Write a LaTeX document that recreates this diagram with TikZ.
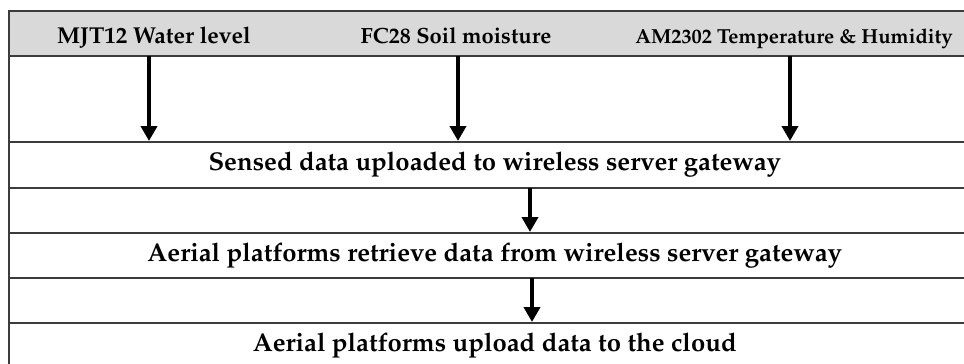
\documentclass[tikz,border=0pt]{standalone}
\usepackage[T1]{fontenc}
\usepackage{mathpazo}
\usetikzlibrary{arrows.meta}
\definecolor{framecol}{HTML}{3C3C3C}
\definecolor{headfill}{HTML}{D9D9D9}
\tikzset{
  rowbox/.style={draw=framecol, line width=1.5pt, rectangle, anchor=north west,
    minimum width=972pt, inner sep=0pt, font=\bfseries\fontsize{25.7}{30}\selectfont},
  headlabel/.style={inner sep=0pt, anchor=base},
  flowarrow/.style={line width=4pt, -{Triangle[width=16pt,length=15pt]}},
}
\begin{document}
\begin{tikzpicture}[x=1pt,y=-1pt]
\useasboundingbox (0,0) rectangle (964,364);
\clip (0,0) rectangle (964,364);
\node[rowbox, fill=headfill, minimum height=45pt] (head) at (8,10) {};
\node[rowbox, minimum height=86pt] (gap1) at (8,55) {};
\node[rowbox, minimum height=46pt] (sensed) at (8,141) {Sensed data uploaded to wireless server gateway};
\node[rowbox, minimum height=45pt] (gap2) at (8,187) {};
\node[rowbox, minimum height=45pt] (retrieve) at (8,232) {Aerial platforms retrieve data from wireless server gateway};
\node[rowbox, minimum height=45pt] (gap3) at (8,277) {};
\node[rowbox, minimum height=46pt] (upload) at (8,322) {Aerial platforms upload data to the cloud};
\node[headlabel, font=\bfseries\fontsize{23}{26}\selectfont] (s1) at (154,43) {MJT12 Water level};
\node[headlabel, font=\bfseries\fontsize{22}{26}\selectfont] (s2) at (456,43) {FC28 Soil moisture};
\node[headlabel, font=\bfseries\fontsize{20.3}{24}\selectfont] (s3) at (794,43) {AM2302 Temperature \& Humidity};
\coordinate (a1) at (149,56);
\coordinate (a2) at (458,56);
\coordinate (a3) at (790,56);
\coordinate (a4) at (530,188);
\coordinate (a5) at (532,278);
\draw[flowarrow] (a1) -- (a1 |- sensed.north);
\draw[flowarrow] (a2) -- (a2 |- sensed.north);
\draw[flowarrow] (a3) -- (a3 |- sensed.north);
\draw[flowarrow] (a4) -- (a4 |- retrieve.north);
\draw[flowarrow] (a5) -- (a5 |- upload.north);
\end{tikzpicture}
\end{document}
